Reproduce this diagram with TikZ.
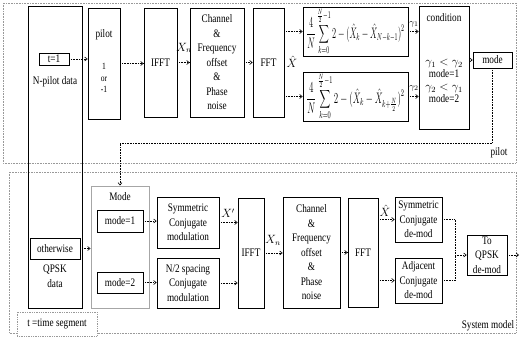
\documentclass[tikz,border=0pt]{standalone}
\usepackage{fontspec}
\usepackage{graphicx}
\setmainfont[FakeStretch=0.8]{Liberation Serif}
\usetikzlibrary{arrows.meta}
\newcommand{\txtfont}{\fontsize{11.5}{14.5}\selectfont}
\newcommand{\smfont}{\fontsize{9.5}{11.5}\selectfont}
\tikzset{
  box/.style={draw, line width=0.75pt, inner sep=1pt, align=center, font=\txtfont},
  graybox/.style={draw=gray!70, line width=0.9pt, inner sep=1pt, align=center, font=\txtfont},
  frame/.style={draw=gray!80, densely dotted, line width=0.6pt},
  conn/.style={densely dotted, line width=0.6pt, -{Straight Barb[length=2.5pt,width=4pt]}},
  plain/.style={densely dotted, line width=0.6pt},
  lbl/.style={inner sep=0pt, align=center, font=\txtfont},
  mlbl/.style={inner sep=0pt, font=\smfont},
}
\begin{document}
\begin{tikzpicture}[x=1pt,y=-1pt]
\useasboundingbox (0,0) rectangle (522,337);
% frames
\draw[frame] (3,3) rectangle (516,163);
\draw[frame] (9,172) rectangle (516,333);
\node[lbl] (pilotlbl) at (499,153) {pilot};
\node[lbl] (syslbl) at (488,326) {System model};
\node[box, frame, minimum width=80pt, minimum height=24pt, fill=white] (tseg) at (57,324) {t =time segment};

% left big box
\node[box, line width=1pt, minimum width=54pt, minimum height=301pt] (big) at (55,157.5) {};
\node[box, minimum width=30pt, minimum height=12pt] (t1) at (54,59) {t=1};
\node[lbl] (npilot) at (55,82) {N-pilot data};
\node[box, minimum width=50pt, minimum height=21pt] (other) at (55,248.5) {otherwise};
\node[lbl] (qpskdata) at (55,276) {QPSK\\data};

% top row
\node[box, minimum width=32pt, minimum height=111pt] (pilot) at (104,63.5) {};
\node[lbl] (pilottxt) at (104,35) {pilot};
\node[lbl, font=\smfont] (pm) at (104,78) {1\\or\\-1};
\node[box, minimum width=33pt, minimum height=109pt] (ifft1) at (160.5,62.5) {IFFT};
\node[box, minimum width=54pt, minimum height=109pt] (chan1) at (217,62.5) {Channel\\\&\\Frequency\\offset\\\&\\Phase\\noise};
\node[box, minimum width=31pt, minimum height=109pt] (fft1) at (268.5,62.5) {FFT};
\node[box, minimum width=105pt, minimum height=37pt] (form1) at (355.5,31.5)
  {\resizebox{98pt}{30pt}{$\displaystyle\frac{4}{N}\sum_{k=0}^{\frac{N}{2}-1}2-(\hat{X}_k-\hat{X}_{N-k-1})^2$}};
\node[box, minimum width=105pt, minimum height=36pt] (form2) at (355.5,96.5)
  {\resizebox{98pt}{30pt}{$\displaystyle\frac{4}{N}\sum_{k=0}^{\frac{N}{2}-1}2-(\hat{X}_k-\hat{X}_{k+\frac{N}{2}})^2$}};
\node[box, minimum width=50pt, minimum height=123pt] (cond) at (444,67.5) {};
\node[lbl] (condtxt) at (444,18) {condition};
\node[lbl] (condrule) at (444,81) {$\gamma_1<\gamma_2$\\[-2pt]mode=1\\[-2pt]$\gamma_2<\gamma_1$\\[-2pt]mode=2};
\node[box, minimum width=39pt, minimum height=16pt] (modeT) at (492.5,60) {mode};

% top connectors
\draw[conn] (t1.east) -- (t1.east -| pilot.west);
\draw[conn] (pilot.east) -- (pilot.east -| ifft1.west);
\draw[conn] (ifft1.east) -- (ifft1.east -| chan1.west);
\node[mlbl, font=\txtfont] (xn1) at (184,48) {$X_n$};
\draw[conn] (chan1.east) -- (chan1.east -| fft1.west);
\node[mlbl, font=\txtfont] (xh1) at (292,62) {$\hat{X}$};
\draw[conn] (fft1.east |- form1.west) -- (form1.west);
\draw[conn] (fft1.east |- form2.west) -- (form2.west);
\draw[conn] (form1.east) -- (form1.east -| cond.west);
\node[mlbl] (g1) at (414,24) {$\gamma_1$};
\draw[conn] (form2.east) -- (form2.east -| cond.west);
\node[mlbl] (g2) at (414,88) {$\gamma_2$};
\draw[conn] (cond.east |- modeT.west) -- (modeT.west);
\coordinate (bendA) at (120,143);
\node[graybox, minimum width=58pt, minimum height=122pt] (Mode) at (120,247) {};
\draw[conn] (modeT.south) |- (bendA) -- (Mode.north);

% bottom row
\node[lbl] (modetxt) at (120,197) {Mode};
\node[box, minimum width=46pt, minimum height=22pt] (m1) at (120,221) {mode=1};
\node[box, minimum width=46pt, minimum height=21pt] (m2) at (120,282.5) {mode=2};
\node[box, minimum width=62pt, minimum height=51pt] (symmod) at (188,222.5) {Symmetric\\Conjugate\\modulation};
\node[box, minimum width=62pt, minimum height=50pt] (n2mod) at (188,283) {N/2 spacing\\Conjugate\\modulation};
\node[box, minimum width=26pt, minimum height=110pt] (ifft2) at (251,253) {IFFT};
\node[box, minimum width=57pt, minimum height=111pt] (chan2) at (311.5,252.5) {Channel\\\&\\Frequency\\offset\\\&\\Phase\\noise};
\node[box, minimum width=30pt, minimum height=109pt] (fft2) at (363,252.5) {FFT};
\node[box, minimum width=47pt, minimum height=45pt] (symdem) at (418.5,219.5) {Symmetric\\Conjugate\\de-mod};
\node[box, minimum width=47pt, minimum height=45pt] (adjdem) at (418.5,280.5) {Adjacent\\Conjugate\\de-mod};
\node[box, minimum width=40pt, minimum height=40pt] (qpsk) at (487,255) {To\\QPSK\\de-mod};
\coordinate (outend) at (519,255);
\coordinate (join) at (455,255);

% bottom connectors
\draw[conn] (other.east) -- (other.east -| Mode.west);
\draw[conn] (m1.east) -- (m1.east -| symmod.west);
\draw[conn] (m2.east) -- (m2.east -| n2mod.west);
\draw[conn] (symmod.east) -- (symmod.east -| ifft2.west);
\node[mlbl, font=\txtfont] (xp) at (228,213) {$X'$};
\draw[conn] (n2mod.east) -- (n2mod.east -| ifft2.west);
\draw[conn] (ifft2.east) -- (ifft2.east -| chan2.west);
\node[mlbl, font=\txtfont] (xn2) at (273,240) {$X_n$};
\draw[conn] (chan2.east) -- (chan2.east -| fft2.west);
\draw[conn] (fft2.east |- symdem.west) -- (symdem.west);
\node[mlbl, font=\txtfont] (xh2) at (385,211) {$\hat{X}$};
\draw[conn] (fft2.east |- adjdem.west) -- (adjdem.west);
\draw[plain] (symdem.east) -| (join);
\draw[plain] (adjdem.east) -| (join);
\draw[conn] (join) -- (qpsk.west);
\draw[conn] (qpsk.east) -- (outend);
\end{tikzpicture}
\end{document}
